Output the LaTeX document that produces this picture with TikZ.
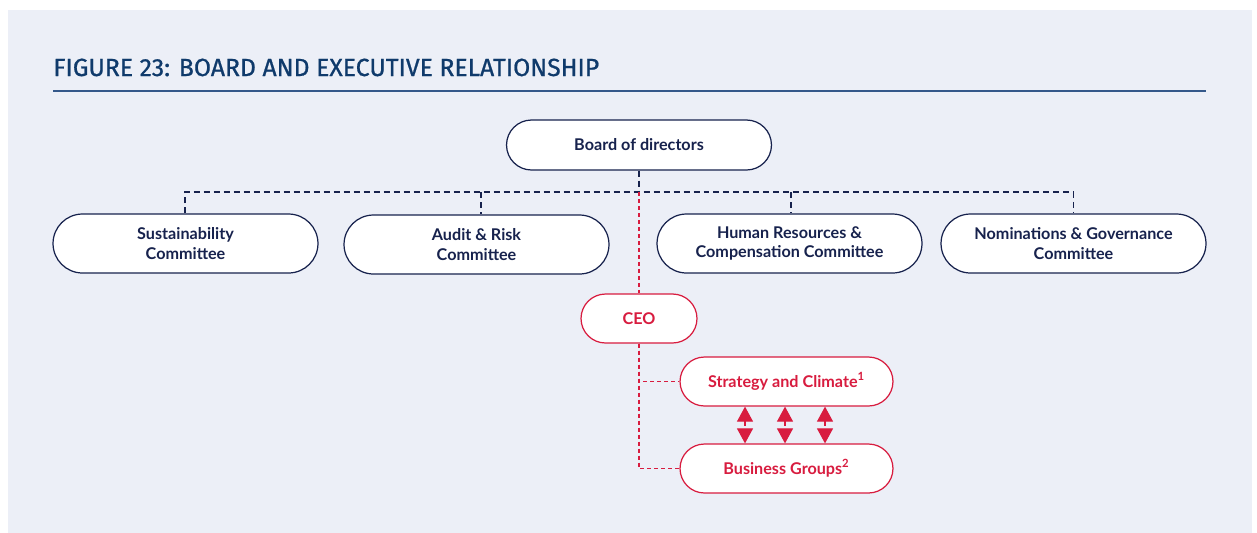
\documentclass[tikz,border=0pt]{standalone}
\usepackage{fontspec}
\setmainfont{Lato}
\newfontfamily\titlefont[FakeBold=0.8]{Fira Sans}
\usepackage{tikz}
\usetikzlibrary{arrows.meta, positioning, shapes.misc}

\definecolor{bgblue}{HTML}{ECEFF7}
\definecolor{navy}{HTML}{17224D}
\definecolor{titleblue}{HTML}{0F3A6B}
\definecolor{ruleblue}{HTML}{34588A}
\definecolor{crimson}{HTML}{D81C3F}

\begin{document}
\begin{tikzpicture}[x=0.02cm, y=-0.02cm,
	box/.style={draw=navy, fill=white, rounded rectangle, line width=0.7pt,
		text=navy, font=\bfseries\fontsize{9.2}{11}\selectfont, align=center,
		minimum width=5.3cm, minimum height=1.18cm, inner sep=0pt},
	redbox/.style={box, draw=crimson, text=crimson, minimum height=0.98cm},
	navydash/.style={draw=navy, line width=0.6pt, dash pattern=on 0.12cm off 0.08cm},
	reddash/.style={draw=crimson, line width=0.6pt, dash pattern=on 0.08cm off 0.06cm},
	twoway/.style={draw=crimson, line width=0.6pt, dash pattern=on 0.1cm off 0.1cm,
		{Triangle[width=0.32cm, length=0.3cm]}-{Triangle[width=0.32cm, length=0.3cm]}}]
	\useasboundingbox (0,0) rectangle (1257,532);
	\fill[white] (0,0) rectangle (1257,532);
	\fill[bgblue] (8,10) rectangle (1252,545);

	% title
	\node[anchor=base west, inner sep=0pt, text=titleblue, font=\titlefont\fontsize{14.1}{17}\selectfont] (title) at (53,76) {FIGURE 23: BOARD AND EXECUTIVE RELATIONSHIP};
	\draw[ruleblue, line width=1pt] (53,91) -- (1206,91);

	% board and committees
	\node[box, minimum height=1cm] (board) at (639,145) {Board of directors};
	\node[box] (sus) at (185.5,243.5) {Sustainability\\Committee};
	\node[box] (audit) at (476.5,244.5) {Audit \& Risk\\Committee};
	\node[box] (hr) at (789.5,243.5) {Human Resources \&\\Compensation Committee};
	\node[box] (nom) at (1073.5,243.5) {Nominations \& Governance\\Committee};
	\coordinate (hub) at (639,192);

	\path[navydash] (board.south) -- (hub);
	\path[navydash] (sus.north -| 185,0) |- (nom.north |- hub) -- (nom.north);
	\path[navydash] (hub -| 481,0) -- (audit.north -| 481,0);
	\path[navydash] (hub -| 791,0) -- (hr.north -| 791,0);

	% executive
	\node[redbox, minimum width=2.32cm] (ceo) at (639,318.5) {CEO};
	\node[redbox, minimum width=4.26cm] (strat) at (786.5,381.5) {Strategy and Climate\textsuperscript{1}};
	\node[redbox, minimum width=4.26cm] (bus) at (786.5,468.5) {Business Groups\textsuperscript{2}};

	\path[reddash] (hub) -- (ceo.north);
	\path[reddash] (ceo.south) |- (strat.west);
	\path[reddash] (ceo.south) |- (bus.west);
	\foreach \dx in {-41.5,-1.5,38.5}
		\path[twoway] ([xshift=\dx*0.02cm]strat.south) -- ([xshift=\dx*0.02cm]bus.north);
\end{tikzpicture}
\end{document}
